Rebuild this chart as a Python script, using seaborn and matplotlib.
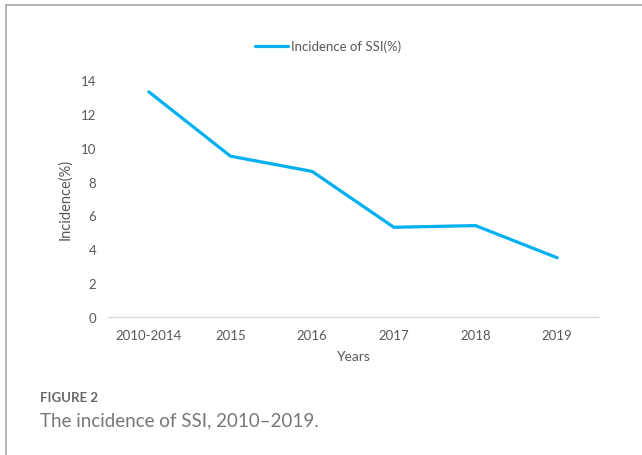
import matplotlib
matplotlib.use("Agg")
import matplotlib.pyplot as plt
from matplotlib.lines import Line2D
import seaborn as sns
import pandas as pd

categories = ["2010-2014", "2015", "2016", "2017", "2018", "2019"]
incidence = [13.3, 9.5, 8.6, 5.3, 5.4, 3.5]
yticks = [0, 2, 4, 6, 8, 10, 12, 14]
series_name = "Incidence of SSI(%)"

sns.set_theme(style="white")
plt.rcParams["font.family"] = ["Lato", "DejaVu Sans"]

df = pd.DataFrame({"Years": categories, "Incidence": incidence, "series": series_name})

fig = plt.figure(figsize=(6.42, 4.56), dpi=100)
ax = fig.add_axes([108/642, 1-318/456, (598-108)/642, (318-81)/456])

sns.lineplot(data=df, x="Years", y="Incidence", hue="series", palette=["#00B0F0"],
             sort=False, linewidth=2.3, ax=ax, legend=False, clip_on=False)

ax.set_xlim(-0.5, 5.5)
ax.set_ylim(0, 14)
ax.set_yticks(yticks)
ax.set_yticklabels([str(v) for v in yticks])
for s in ["top", "right", "left"]:
    ax.spines[s].set_visible(False)
ax.spines["bottom"].set_color("#d9d9d9")
ax.spines["bottom"].set_linewidth(1.0)
ax.tick_params(axis="both", length=0, labelsize=9.5, colors="#595959")
ax.tick_params(axis="y", pad=8.5)
ax.tick_params(axis="x", pad=9)
ax.set_xlabel("Years", fontsize=10, color="#595959", labelpad=6)
ax.set_ylabel("Incidence(%)", fontsize=10.5, color="#595959", labelpad=6)

handle = Line2D([], [], color="#00B0F0", linewidth=2.3)
fig.legend([handle], [series_name], loc="center", bbox_to_anchor=(328/642, 1-47/456),
           frameon=False, fontsize=9.5, handlelength=2.5, handletextpad=0.2,
           labelcolor="#595959")

# frame lines
fig.add_artist(Line2D([6/642, 1], [1-6/456, 1-6/456], color="#a6a6a6", linewidth=1.2,
                      transform=fig.transFigure))
fig.add_artist(Line2D([6/642, 6/642], [0, 1-6/456], color="#a6a6a6", linewidth=1.2,
                      transform=fig.transFigure))

fig.text(40/642, 1-398/456, "FIGURE 2", fontsize=9.5, fontweight="bold",
         color="#666666", va="center", ha="left")
fig.text(40/642, 1-421/456, "The incidence of SSI, 2010\u20132019.", fontsize=13.5,
         color="#777777", va="center", ha="left")

fig.savefig("out.png", dpi=100)
